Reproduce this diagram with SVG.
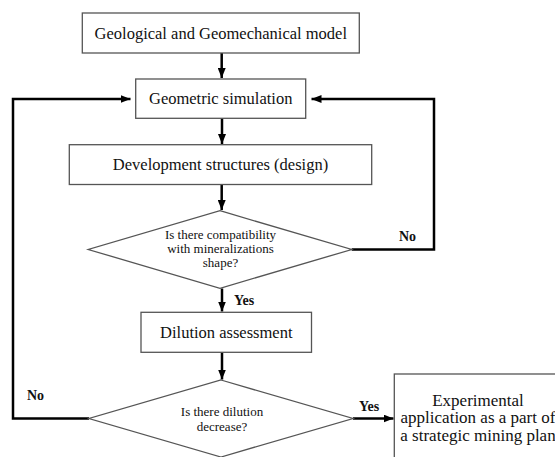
<svg xmlns="http://www.w3.org/2000/svg" width="555" height="457" viewBox="0 0 555 457">
<defs>
<style>
.box{fill:#fff;stroke:#555;stroke-width:1.3}
.t{font-family:'Liberation Serif','DejaVu Serif',serif;fill:#111;text-anchor:middle}
.tb{font-size:16.5px}
.td{font-size:13px}
.lb{font-family:'Liberation Serif','DejaVu Serif',serif;font-weight:bold;font-size:14px;fill:#111}
.c{fill:none;stroke:#000;stroke-width:2.5;stroke-linejoin:miter}
</style>
<marker id="ah" markerWidth="10" markerHeight="8" refX="10" refY="4" orient="auto" markerUnits="userSpaceOnUse">
<path d="M0,0 L10,4 L0,8 Z" fill="#000"/>
</marker>
</defs>
<rect width="555" height="457" fill="#fff"/>
<g id="connectors">
<path class="c" d="M221.7,53 V78" marker-end="url(#ah)"/>
<path class="c" d="M222,118 V144" marker-end="url(#ah)"/>
<path class="c" d="M221.7,184.5 V210" marker-end="url(#ah)"/>
<path class="c" d="M222,288.5 V311.5" marker-end="url(#ah)"/>
<path class="c" d="M222,352 V379.5" marker-end="url(#ah)"/>
<path class="c" d="M351.7,249.5 H434 V99 H311.5" marker-end="url(#ah)"/>
<path class="c" d="M89,418.5 H13 V99 H130.5" marker-end="url(#ah)"/>
<path class="c" d="M353,418.5 H393.5" marker-end="url(#ah)"/>
<text class="lb" x="399" y="241">No</text>
<text class="lb" x="234" y="304.5">Yes</text>
<text class="lb" x="27" y="400">No</text>
<text class="lb" x="359" y="411">Yes</text>
</g>
<g id="n1">
<rect class="box" x="82.3" y="13" width="277" height="40"/>
<text class="t tb" x="220.8" y="38.5">Geological and Geomechanical model</text>
</g>
<g id="n2">
<rect class="box" x="135.7" y="79" width="170" height="39.3"/>
<text class="t tb" x="220.7" y="103.5">Geometric simulation</text>
</g>
<g id="n3">
<rect class="box" x="69.3" y="144.7" width="302.4" height="39.8"/>
<text class="t tb" x="220.5" y="170">Development structures (design)</text>
</g>
<g id="d1">
<polygon class="box" points="220,210.7 351.7,249.5 220,288.3 88.3,249.5"/>
<text class="t td" x="220.5" y="238.5">Is there compatibility</text>
<text class="t td" x="220.5" y="252.5">with mineralizations</text>
<text class="t td" x="220.5" y="266.5">shape?</text>
</g>
<g id="n4">
<rect class="box" x="141" y="312.3" width="170.5" height="40"/>
<text class="t tb" x="226.3" y="337.5">Dilution assessment</text>
</g>
<g id="d2">
<polygon class="box" points="221,380 353,418.5 221,457 89,418.5"/>
<text class="t td" x="222" y="416">Is there dilution</text>
<text class="t td" x="222" y="431">decrease?</text>
</g>
<g id="n5">
<rect class="box" x="394.3" y="374" width="170" height="100"/>
<text class="t" style="font-size:17px" x="478" y="406">Experimental</text>
<text class="t" style="font-size:17px" x="478" y="423.3">application as a part of</text>
<text class="t" style="font-size:17px" x="478" y="440.5">a strategic mining plan</text>
</g>
</svg>
